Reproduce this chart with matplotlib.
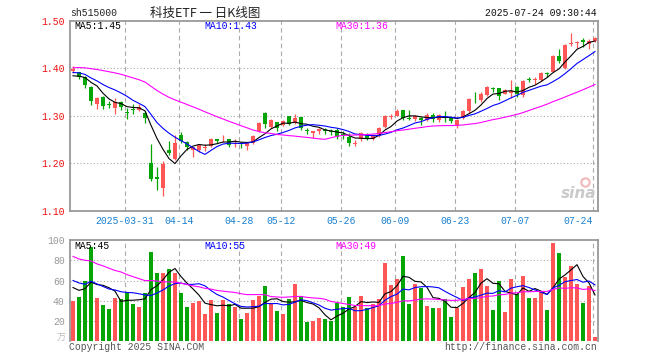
import numpy as np
import pandas as pd
import matplotlib
matplotlib.use('Agg')
import matplotlib.pyplot as plt

# 515000 daily bars, 2025-03-18 .. 2025-07-24
holidays = ['2025-04-04', '2025-05-01', '2025-05-02', '2025-05-05', '2025-06-02']

opens = [1.395, 1.391, 1.381, 1.360, 1.325, 1.339, 1.325, 1.316, 1.328, 1.306,
         1.315, 1.312, 1.305, 1.200, 1.170, 1.147, 1.228, 1.209, 1.259, 1.245,
         1.228, 1.227, 1.233, 1.237, 1.250, 1.250, 1.252, 1.241, 1.243, 1.237,
         1.242, 1.268, 1.305, 1.277, 1.286, 1.281, 1.300, 1.285, 1.297, 1.270,
         1.264, 1.268, 1.273, 1.268, 1.269, 1.262, 1.256, 1.241, 1.251, 1.259,
         1.250, 1.258, 1.276, 1.297, 1.300, 1.311, 1.296, 1.293, 1.295, 1.290,
         1.301, 1.292, 1.298, 1.296, 1.278, 1.296, 1.309, 1.334, 1.332, 1.344,
         1.359, 1.358, 1.346, 1.348, 1.360, 1.344, 1.377, 1.375, 1.376, 1.389,
         1.393, 1.426, 1.400, 1.452, 1.454, 1.460, 1.451, 1.457]
highs = [1.404, 1.393, 1.383, 1.362, 1.339, 1.341, 1.330, 1.337, 1.330, 1.317,
         1.324, 1.325, 1.310, 1.240, 1.193, 1.205, 1.246, 1.260, 1.265, 1.246,
         1.235, 1.241, 1.241, 1.253, 1.251, 1.260, 1.252, 1.250, 1.245, 1.244,
         1.260, 1.287, 1.308, 1.293, 1.286, 1.290, 1.300, 1.304, 1.298, 1.274,
         1.268, 1.274, 1.274, 1.271, 1.274, 1.268, 1.263, 1.249, 1.265, 1.263,
         1.262, 1.276, 1.301, 1.304, 1.314, 1.313, 1.311, 1.301, 1.298, 1.305,
         1.306, 1.304, 1.309, 1.298, 1.294, 1.312, 1.337, 1.350, 1.349, 1.362,
         1.360, 1.358, 1.356, 1.375, 1.363, 1.376, 1.382, 1.382, 1.393, 1.393,
         1.427, 1.441, 1.450, 1.475, 1.458, 1.463, 1.462, 1.465]
lows = [1.389, 1.378, 1.358, 1.323, 1.314, 1.314, 1.317, 1.304, 1.313, 1.293,
        1.303, 1.310, 1.285, 1.163, 1.144, 1.130, 1.217, 1.206, 1.242, 1.228,
        1.213, 1.223, 1.225, 1.234, 1.243, 1.244, 1.234, 1.234, 1.233, 1.228,
        1.241, 1.266, 1.274, 1.275, 1.267, 1.279, 1.281, 1.283, 1.270, 1.262,
        1.254, 1.261, 1.261, 1.260, 1.251, 1.251, 1.236, 1.237, 1.246, 1.249,
        1.248, 1.256, 1.274, 1.294, 1.299, 1.290, 1.290, 1.288, 1.280, 1.288,
        1.287, 1.287, 1.287, 1.284, 1.275, 1.294, 1.306, 1.327, 1.328, 1.341,
        1.350, 1.333, 1.345, 1.338, 1.340, 1.339, 1.370, 1.367, 1.374, 1.381,
        1.391, 1.411, 1.398, 1.446, 1.443, 1.444, 1.440, 1.456]
closes = [1.398, 1.382, 1.365, 1.330, 1.338, 1.321, 1.323, 1.328, 1.318, 1.305,
          1.313, 1.319, 1.296, 1.166, 1.166, 1.199, 1.222, 1.243, 1.247, 1.234,
          1.234, 1.239, 1.235, 1.251, 1.246, 1.252, 1.239, 1.243, 1.241, 1.243,
          1.258, 1.285, 1.283, 1.292, 1.274, 1.288, 1.283, 1.296, 1.275, 1.268,
          1.267, 1.272, 1.268, 1.265, 1.256, 1.258, 1.243, 1.243, 1.263, 1.252,
          1.260, 1.275, 1.299, 1.300, 1.310, 1.295, 1.294, 1.299, 1.290, 1.302,
          1.293, 1.301, 1.296, 1.289, 1.292, 1.309, 1.335, 1.332, 1.345, 1.360,
          1.356, 1.341, 1.355, 1.351, 1.345, 1.373, 1.375, 1.377, 1.389, 1.387,
          1.425, 1.415, 1.449, 1.454, 1.456, 1.455, 1.457, 1.464]
# volume in 万手
volumes = [40, 44, 60, 93, 43, 36, 32, 43, 42, 48,
           37, 34, 48, 88, 67, 67, 71, 67, 48, 34,
           38, 40, 27, 41, 28, 41, 37, 34, 22, 28,
           41, 45, 55, 38, 30, 27, 42, 57, 45, 19,
           20, 23, 22, 20, 38, 34, 44, 34, 45, 33,
           37, 42, 77, 56, 62, 84, 37, 57, 53, 35,
           33, 33, 42, 24, 33, 54, 62, 67, 71, 55,
           31, 60, 29, 62, 47, 65, 43, 43, 49, 31,
           97, 87, 64, 74, 57, 38, 55, 4]

# 29 sessions before the window, only used to warm up the moving averages
prev_closes = [1.372, 1.380, 1.385, 1.392, 1.388, 1.395, 1.400, 1.408,
               1.418, 1.425, 1.436, 1.442, 1.438, 1.431, 1.427, 1.423,
               1.405, 1.392, 1.380, 1.383,
               1.390, 1.398, 1.404, 1.401, 1.397,
               1.386, 1.379, 1.381, 1.376]
prev_volumes = [120, 98, 115, 130, 95, 102, 110, 88, 125, 100, 92, 108, 85,
                82, 90, 75, 70, 85, 72, 78,
                68, 74, 62, 70, 61,
                58, 52, 60, 55]

tick_dates = ['2025-03-31', '2025-04-14', '2025-04-28', '2025-05-12', '2025-05-26',
              '2025-06-09', '2025-06-23', '2025-07-07', '2025-07-24']
tick_labels = ['2025-03-31', '04-14', '04-28', '05-12', '05-26',
               '06-09', '06-23', '07-07', '07-24']
price_ticks = [1.10, 1.20, 1.30, 1.40, 1.50]
vol_ticks = [20, 40, 60, 80, 100]

RED = '#ff5656'
GREEN = '#06a506'
GRID = '#aaaaaa'
MONO = 'Liberation Mono'
W, H = 660, 360

dates = pd.bdate_range('2025-03-18', '2025-07-24')
dates = dates[~dates.isin(pd.to_datetime(holidays))]
x = np.arange(len(dates))
o, hi, lo, c = map(np.array, (opens, highs, lows, closes))
v = np.array(volumes)
up = c >= o
colors = np.where(up, RED, GREEN)

all_c = pd.Series(prev_closes + closes)
all_v = pd.Series(prev_volumes + volumes)
n_prev = len(prev_closes)
ma_p = {n: all_c.rolling(n).mean().values[n_prev:] for n in (5, 10, 30)}
ma_v = {n: all_v.rolling(n).mean().values[n_prev:] for n in (5, 10, 30)}
ma_col = {5: 'black', 10: '#0000ff', 30: '#ff00ff'}

tick_x = [dates.get_loc(pd.Timestamp(d)) - 0.4 for d in tick_dates]

fig = plt.figure(figsize=(W / 100, H / 100), dpi=100)
ax = fig.add_axes([70.3 / W, 1 - 210.7 / H, 527.4 / W, 190 / H])
axv = fig.add_axes([70.3 / W, 1 - 340.7 / H, 527.4 / W, 100.3 / H])

for a in (ax, axv):
    a.set_xlim(-0.45, len(x) - 0.55)
    for s in a.spines.values():
        s.set_color('#999999')
        s.set_linewidth(1.3)
    for tx in tick_x:
        a.axvline(tx, color=GRID, lw=0.8, ls=(0, (4, 3)), zorder=0)
    a.tick_params(length=0)
axv.spines['bottom'].set_visible(False)

# candles
ax.vlines(x, lo, hi, colors=colors, lw=0.9, zorder=2)
body = np.maximum(np.abs(c - o), 0.0018)
ax.bar(x, body, bottom=np.minimum(o, c), width=0.78, color=colors, zorder=2)
for n in (5, 10, 30):
    ax.plot(x, ma_p[n], color=ma_col[n], lw=0.8, zorder=3)
ax.set_ylim(1.10, 1.50)
ax.set_yticks(price_ticks)
ax.set_yticklabels([f'{t:.2f}' for t in price_ticks], color='#ee1111',
                   family=MONO, fontsize=7)
for t in price_ticks[1:-1]:
    ax.axhline(t, color=GRID, lw=0.8, ls=(0, (1, 2)), zorder=0)
ax.set_xticks(tick_x)
ax.set_xticklabels(tick_labels, color='#1a80d0', family=MONO, fontsize=7)
ax.get_xticklabels()[-1].set_horizontalalignment('right')
ax.tick_params(axis='x', pad=4)
ax.tick_params(axis='y', pad=4)

# volume
axv.bar(x, v, width=0.78, color=colors, zorder=2)
for n in (5, 10, 30):
    axv.plot(x, ma_v[n], color=ma_col[n], lw=0.8, zorder=3)
axv.set_ylim(0, 100)
axv.set_yticks(vol_ticks)
axv.set_yticklabels([str(t) for t in vol_ticks], color='#999999',
                    family=MONO, fontsize=7)
for t in vol_ticks[:-1]:
    axv.axhline(t, color=GRID, lw=0.8, ls=(0, (1, 2)), zorder=0)
axv.set_xticks([])
axv.tick_params(axis='y', pad=4)


def floor2(val):
    return f'{np.floor(val * 100) / 100:.2f}'


def ftext(px, py, s, **kw):
    kw.setdefault('family', MONO)
    kw.setdefault('fontsize', 7)
    kw.setdefault('va', 'center')
    fig.text(px / W, 1 - py / H, s, **kw)


# header
ftext(70, 13, 'sh515000', color='#222222')
ftext(150, 13, '科技ETF 一 日K线图', family=['Noto Sans CJK SC', 'DejaVu Sans'],
      fontsize=9, color='#222222')
ftext(597, 13, '2025-07-24 09:30:44', ha='right', color='#111111')

# MA legends
ftext(74, 26, f'MA5:{floor2(ma_p[5][-1])}', color='black')
ftext(204, 26, f'MA10:{floor2(ma_p[10][-1])}', color='#0000ff')
ftext(335, 26, f'MA30:{floor2(ma_p[30][-1])}', color='#ff00ff')
ftext(74, 246, f'MA5:{int(np.floor(ma_v[5][-1]))}', color='black')
ftext(204, 246, f'MA10:{int(np.floor(ma_v[10][-1]))}', color='#0000ff')
ftext(335, 246, f'MA30:{int(np.floor(ma_v[30][-1]))}', color='#ff00ff')

# units / footer
ftext(66, 338, '万', ha='right', family=['Noto Sans CJK SC', 'DejaVu Sans'],
      fontsize=6.5, color='#bbbbbb')
ftext(69, 347, 'Copyright 2025 SINA.COM', color='#555555')
ftext(597, 347, 'http://finance.sina.com.cn', ha='right', color='#555555')

# watermark
ax.text(0.998, 0.05, 'sina', transform=ax.transAxes, ha='right', va='bottom',
        fontsize=11, fontweight='bold', style='italic', color='#c9c9c9', zorder=1)
ax.plot([0.975], [0.15], marker='o', ms=6, mfc='none', mec='#f2b8b8', mew=1.5,
        transform=ax.transAxes, zorder=1)

fig.savefig('out.png', dpi=100)
